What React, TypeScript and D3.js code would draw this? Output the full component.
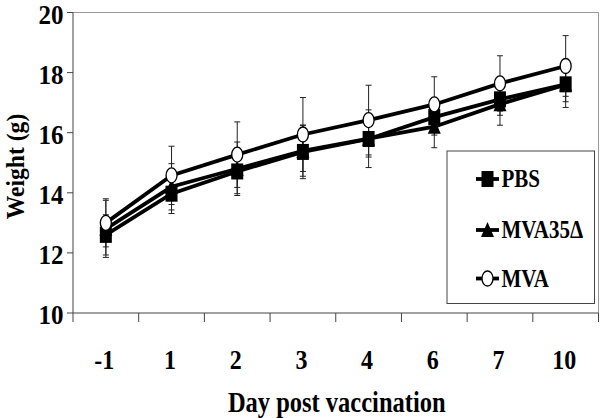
import React from "react";
import * as d3 from "d3";

const days = ["-1", "1", "2", "3", "4", "6", "7", "10"];
const yTicks = [10, 12, 14, 16, 18, 20];

const pbs = [12.6, 13.97, 14.71, 15.36, 15.79, 16.52, 17.11, 17.61];
const pbsErr = [0.67, 0.66, 0.74, 0.89, 0.6, 0.6, 0.53, 0.58];
const mva35 = [12.8, 14.2, 14.8, 15.4, 15.8, 16.2, 16.95, 17.6];
const mva35Err = [0.95, 0.77, 0.89, 0.85, 0.96, 0.7, 0.7, 0.76];
const mva = [13.0, 14.58, 15.27, 15.94, 16.42, 16.94, 17.64, 18.22];
const mvaErr = [0.8, 0.97, 1.09, 1.23, 1.16, 0.92, 0.92, 1.01];

const seriesNames = ["PBS", "MVA35Δ", "MVA"];
const seriesMarkers = ["square", "triangle", "circle"];

const W = 603;
const H = 418;
const FONT = '"Liberation Serif", "Times New Roman", Times, "DejaVu Serif", serif';
const TS: React.CSSProperties = { fontFamily: FONT, fontWeight: 700 };

function Marker({ type, cx, cy }: { type: string; cx: number; cy: number }) {
  if (type === "square") {
    return <rect x={cx - 6} y={cy - 8} width={12} height={16} fill="#000" />;
  }
  if (type === "triangle") {
    const p = `${cx},${cy - 8} ${cx + 6.5},${cy + 7} ${cx - 6.5},${cy + 7}`;
    return <polygon points={p} fill="#000" />;
  }
  return <ellipse cx={cx} cy={cy} rx={5.5} ry={7.5} fill="#fff" stroke="#000" strokeWidth={1.3} />;
}

export default function App() {
  const x = d3.scaleBand<string>().domain(days).range([73, 598.5]).paddingInner(0).paddingOuter(0);
  const y = d3.scaleLinear().domain([10, 20]).range([313, 12.5]);
  const bw = x.bandwidth();
  const cx = (d: string) => (x(d) as number) + bw / 2;

  const series = [
    { name: seriesNames[0], marker: seriesMarkers[0], vals: pbs, err: pbsErr },
    { name: seriesNames[1], marker: seriesMarkers[1], vals: mva35, err: mva35Err },
    { name: seriesNames[2], marker: seriesMarkers[2], vals: mva, err: mvaErr },
  ];

  const line = d3
    .line<number>()
    .x((_, i) => cx(days[i]))
    .y((v) => y(v));

  const boundaries = [...days.map((d) => x(d) as number), x.range()[1]];
  const [x0, x1] = x.range();
  const [yb, yt] = y.range();

  const legendY = [179, 230, 278.5];

  return (
    <svg
      width={W}
      height={H}
      style={{ position: "absolute", left: 0, top: 0, background: "#fff" }}
    >
      <rect x={0} y={0} width={W} height={H} fill="#fff" />
      {/* frame top/right */}
      <line x1={x0} y1={yt} x2={x1} y2={yt} stroke="#999" strokeWidth={1} />
      <line x1={x1} y1={yt} x2={x1} y2={yb} stroke="#999" strokeWidth={1} />
      {/* axes */}
      <line x1={x0} y1={yt} x2={x0} y2={yb} stroke="#444" strokeWidth={1} />
      <line x1={x0} y1={yb} x2={x1} y2={yb} stroke="#444" strokeWidth={1} />
      {yTicks.map((t) => (
        <g key={t}>
          <line x1={x0 - 6} y1={y(t)} x2={x0} y2={y(t)} stroke="#444" strokeWidth={1} />
          <text
            transform={`translate(63.5,${y(t) + 11}) scale(1,1.05)`}
            textAnchor="end"
            fontSize={25}
            style={TS}
          >
            {t}
          </text>
        </g>
      ))}
      {boundaries.map((b, i) => (
        <line key={i} x1={b} y1={yb} x2={b} y2={yb + 9} stroke="#444" strokeWidth={1} />
      ))}
      {days.map((d) => (
        <text
          key={d}
          transform={`translate(${cx(d) - 1.5},369) scale(1,1.17)`}
          textAnchor="middle"
          fontSize={24}
          style={TS}
        >
          {d}
        </text>
      ))}
      <text
        transform={`translate(${(x0 + x1) / 2 + 1},412) scale(1,1.2)`}
        textAnchor="middle"
        fontSize={24.5}
        style={TS}
      >
        Day post vaccination
      </text>
      <text
        transform={`translate(23.5,166.5) rotate(-90) scale(1,1.08)`}
        textAnchor="middle"
        fontSize={23.6}
        style={TS}
      >
        Weight (g)
      </text>

      {/* error bars */}
      {series.map((s) =>
        s.vals.map((v, i) => {
          const px = cx(days[i]);
          const top = y(v + s.err[i]);
          const bot = y(v - s.err[i]);
          return (
            <g key={s.name + i} stroke="#222" strokeWidth={1}>
              <line x1={px} y1={top} x2={px} y2={bot} />
              <line x1={px - 3} y1={top} x2={px + 3} y2={top} />
              <line x1={px - 3} y1={bot} x2={px + 3} y2={bot} />
            </g>
          );
        })
      )}

      {/* series */}
      {series.map((s) => (
        <g key={s.name}>
          <path d={line(s.vals) as string} fill="none" stroke="#000" strokeWidth={3.8} />
          {s.vals.map((v, i) => (
            <Marker key={i} type={s.marker} cx={cx(days[i])} cy={y(v)} />
          ))}
        </g>
      ))}

      {/* legend */}
      <rect x={447} y={151} width={147.5} height={152.5} fill="#fff" stroke="#444" strokeWidth={1} />
      {series.map((s, i) => (
        <g key={s.name}>
          <line x1={476} y1={legendY[i]} x2={499} y2={legendY[i]} stroke="#000" strokeWidth={3.8} />
          <Marker type={s.marker} cx={487.5} cy={legendY[i]} />
          <text
            transform={`translate(501.5,${legendY[i] + 8}) scale(1,1.2)`}
            fontSize={21}
            style={TS}
          >
            {s.name}
          </text>
        </g>
      ))}
    </svg>
  );
}
